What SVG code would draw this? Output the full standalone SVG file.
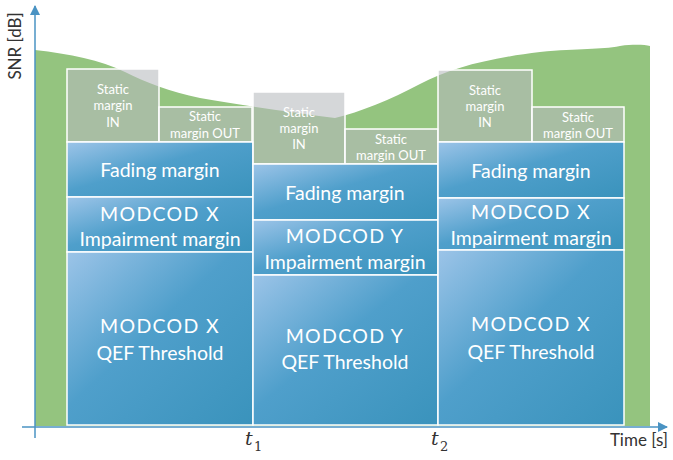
<svg xmlns="http://www.w3.org/2000/svg" width="673" height="460" viewBox="0 0 673 460">
<defs>
<linearGradient id="blue" x1="0" y1="0" x2="1" y2="1">
<stop offset="0" stop-color="#9cc4e8"/>
<stop offset="0.45" stop-color="#4f9fcb"/>
<stop offset="1" stop-color="#3a93bc"/>
</linearGradient>
<marker id="arr" viewBox="0 0 10 10" refX="9" refY="5" markerWidth="10" markerHeight="10" markerUnits="userSpaceOnUse" orient="auto">
<path d="M0,0 L10,5 L0,10 Z" fill="#4a93c3"/>
</marker>
</defs>
<style>
.blue{fill:url(#blue);stroke:#ffffff;stroke-width:1.5}
.stat{fill:#b6babd;fill-opacity:0.58;stroke:#ffffff;stroke-width:1.5}
.big{font-family:Lato,"Open Sans",sans-serif;font-size:19.5px;fill:#ffffff;text-anchor:middle}
.caps{letter-spacing:1.3px}
.small{font-family:Lato,"Open Sans",sans-serif;font-size:13px;fill:#ffffff;text-anchor:middle}
.ax{font-family:Lato,"Open Sans",sans-serif;font-size:17px;fill:#333333}
.t{font-family:"DejaVu Serif","Liberation Serif",serif;font-style:italic;font-size:19px;fill:#333333}
.sub{font-family:"DejaVu Serif","Liberation Serif",serif;font-size:13px;fill:#333333}
.axis{stroke:#4a93c3;stroke-width:1.5;fill:none}
</style>
<g id="snr-area">
<path d="M35,50 C70,54 100,60 125,72 C145,82 170,92 200,98 C240,105 290,112 335,118 C360,112 390,100 420,84 C450,68 490,58 540,52 C580,48 600,50 620,46 C635,44 645,45 650,46 L650,426 L35,426 Z" fill="#94c47f"/>
</g>
<g id="col1">
<g id="c1-static-in"><rect class="stat" x="67" y="69" width="92" height="73"/>
<text class="small" x="113" y="94">Static</text><text class="small" x="113" y="110">margin</text><text class="small" x="113" y="127">IN</text></g>
<g id="c1-static-out"><rect class="stat" x="159" y="107" width="93" height="35"/>
<text class="small" x="205" y="121">Static</text><text class="small" x="205" y="138">margin OUT</text></g>
<g id="c1-fading"><rect class="blue" x="67" y="142" width="186" height="55"/>
<text class="big" x="160" y="177">Fading margin</text></g>
<g id="c1-impair"><rect class="blue" x="67" y="197" width="186" height="55"/>
<text class="big caps" x="160" y="221">MODCOD X</text><text class="big" x="160" y="246">Impairment margin</text></g>
<g id="c1-qef"><rect class="blue" x="67" y="252" width="186" height="173"/>
<text class="big caps" x="160" y="333">MODCOD X</text><text class="big" x="160" y="360">QEF Threshold</text></g>
</g>
<g id="col2">
<g id="c2-static-in"><rect class="stat" x="253" y="92" width="92" height="72"/>
<text class="small" x="299" y="117">Static</text><text class="small" x="299" y="133">margin</text><text class="small" x="299" y="149">IN</text></g>
<g id="c2-static-out"><rect class="stat" x="345" y="129" width="93" height="35"/>
<text class="small" x="391" y="144">Static</text><text class="small" x="391" y="160">margin OUT</text></g>
<g id="c2-fading"><rect class="blue" x="253" y="164" width="185" height="56"/>
<text class="big" x="345" y="200">Fading margin</text></g>
<g id="c2-impair"><rect class="blue" x="253" y="220" width="185" height="55"/>
<text class="big caps" x="345" y="243">MODCOD Y</text><text class="big" x="345" y="269">Impairment margin</text></g>
<g id="c2-qef"><rect class="blue" x="253" y="275" width="185" height="150"/>
<text class="big caps" x="345" y="343">MODCOD Y</text><text class="big" x="345" y="369">QEF Threshold</text></g>
</g>
<g id="col3">
<g id="c3-static-in"><rect class="stat" x="438" y="70" width="94" height="72"/>
<text class="small" x="485" y="95">Static</text><text class="small" x="485" y="111">margin</text><text class="small" x="485" y="127">IN</text></g>
<g id="c3-static-out"><rect class="stat" x="532" y="107" width="92" height="35"/>
<text class="small" x="578" y="122">Static</text><text class="small" x="578" y="138">margin OUT</text></g>
<g id="c3-fading"><rect class="blue" x="438" y="142" width="186" height="56"/>
<text class="big" x="531" y="178">Fading margin</text></g>
<g id="c3-impair"><rect class="blue" x="438" y="198" width="186" height="52"/>
<text class="big caps" x="531" y="219">MODCOD X</text><text class="big" x="531" y="245">Impairment margin</text></g>
<g id="c3-qef"><rect class="blue" x="438" y="250" width="186" height="175"/>
<text class="big caps" x="531" y="331">MODCOD X</text><text class="big" x="531" y="359">QEF Threshold</text></g>
</g>
<g id="axes">
<line class="axis" x1="35" y1="438" x2="35" y2="6" marker-end="url(#arr)"/>
<line class="axis" x1="22" y1="427" x2="667" y2="427" marker-end="url(#arr)"/>
</g>
<g id="labels">
<text class="ax" transform="translate(21,46) rotate(-90)" text-anchor="middle">SNR [dB]</text>
<text class="ax" x="668" y="446" text-anchor="end">Time [s]</text>
<text class="t" x="245" y="445">t</text><text class="sub" x="254" y="451">1</text>
<text class="t" x="431" y="445">t</text><text class="sub" x="440" y="451">2</text>
</g>
</svg>
